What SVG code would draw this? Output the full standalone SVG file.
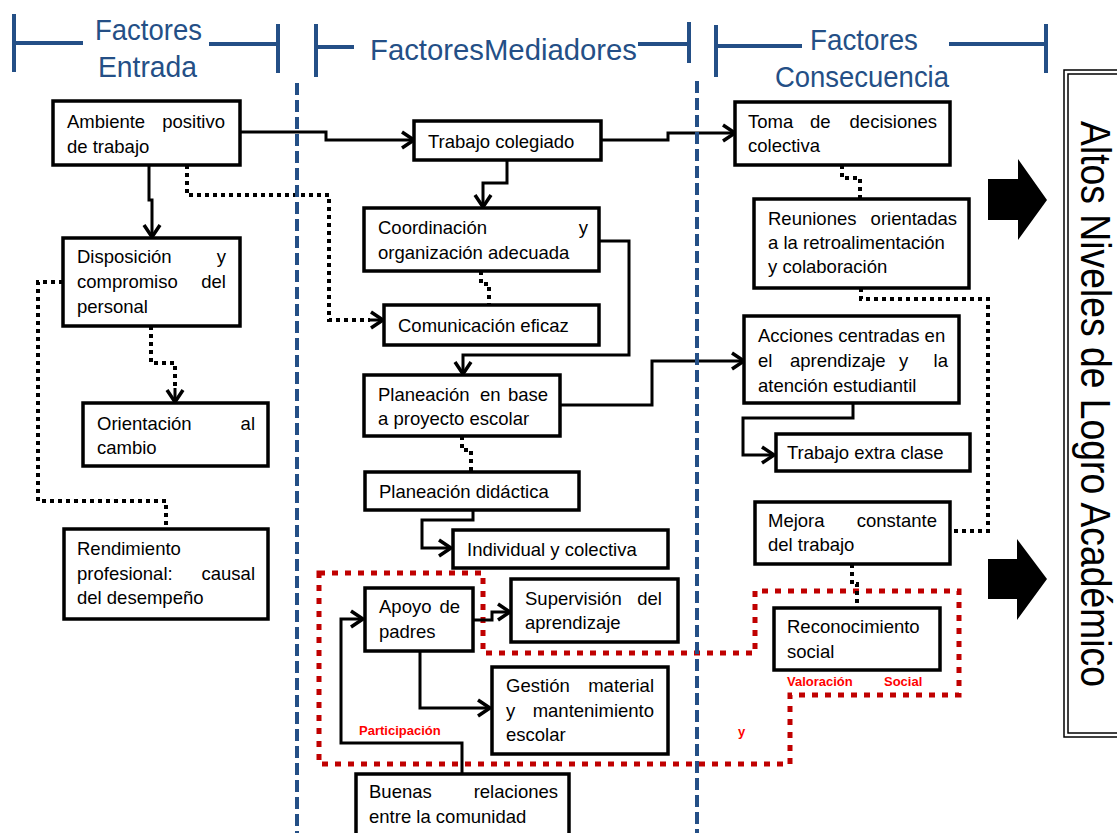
<svg xmlns="http://www.w3.org/2000/svg" width="1117" height="833" viewBox="0 0 1117 833">
<style>
.box{fill:#fff;stroke:#000;stroke-width:3.5}
.t{font-family:"Liberation Sans",Arial,sans-serif;font-size:18.5px;fill:#000}
.e{text-anchor:end}
.hd{font-family:"Liberation Sans",Arial,sans-serif;font-size:29px;fill:#244F86}
.hl{stroke:#244F86;stroke-width:4;fill:none}
.bd{stroke:#244F86;stroke-width:4;stroke-dasharray:12 5;fill:none}
.c{fill:none;stroke:#000;stroke-width:3}
.d{fill:none;stroke:#000;stroke-width:4;stroke-dasharray:4 4}
.red{fill:none;stroke:#C00000;stroke-width:5;stroke-dasharray:6 7}
.rl{font-family:"Liberation Sans",Arial,sans-serif;font-size:13px;font-weight:bold;fill:#FF0000}
</style>
<defs>
<marker id="ar" markerUnits="userSpaceOnUse" markerWidth="16" markerHeight="20" viewBox="0 0 16 20" refX="14" refY="10" orient="auto">
<path d="M2,2 L14,10 L2,18" fill="none" stroke="#000" stroke-width="3.5" stroke-dasharray="none"/>
</marker>
</defs>
<rect width="1117" height="833" fill="#fff"/>

<g id="headers">
<path class="hl" d="M14,14 V72 M14,43 H83 M209,44 H278 M278,24 V73"/>
<text class="hd" x="95" y="40" textLength="107" lengthAdjust="spacingAndGlyphs">Factores</text>
<text class="hd" x="98" y="77" textLength="99" lengthAdjust="spacingAndGlyphs">Entrada</text>
<path class="hl" d="M316,24 V77 M316,47 H354 M638,44 H689 M689,22 V63"/>
<text class="hd" x="370" y="60" textLength="267" lengthAdjust="spacingAndGlyphs">FactoresMediadores</text>
<path class="hl" d="M716,25 V77 M716,46 H802 M949,44 H1046 M1046,24 V73"/>
<text class="hd" x="810" y="50" textLength="108" lengthAdjust="spacingAndGlyphs">Factores</text>
<text class="hd" x="775" y="87" textLength="174" lengthAdjust="spacingAndGlyphs">Consecuencia</text>
</g>

<g id="grupo-participacion">
<path class="red" d="M319,573 H483 V653 H755 V591 H959 V695 H790 V764 H319 Z"/>
<text class="rl" x="359" y="735">Participación</text>
<text class="rl" x="738" y="736">y</text>
<text class="rl" x="787" y="686">Valoración</text>
<text class="rl" x="884" y="686">Social</text>
</g>

<g id="connectors">
<path class="c" d="M240,132 H326 V140 H414" marker-end="url(#ar)"/>
<path class="c" d="M601,140 H668 V133 H735" marker-end="url(#ar)"/>
<path class="c" d="M149,165 V200 H152 V237" marker-end="url(#ar)"/>
<path class="d" d="M187,165 V195 H329 V320 H370"/>
<path class="c" d="M368,320 H383" marker-end="url(#ar)"/>
<path class="c" d="M507,160 V183 H483 V207" marker-end="url(#ar)"/>
<path class="d" d="M481,271 V284 H489 V305"/>
<path class="c" d="M599,241 H629 V355 H463 V374" marker-end="url(#ar)"/>
<path class="c" d="M560,405 H652 V361 H744" marker-end="url(#ar)"/>
<path class="d" d="M462,436 V450 H471 V471"/>
<path class="c" d="M473,510 V520 H422 V548 H451" marker-end="url(#ar)"/>
<path class="c" d="M473,620 H492 V612 H510" marker-end="url(#ar)"/>
<path class="c" d="M420,651 V708 H490" marker-end="url(#ar)"/>
<path class="c" d="M462,774 V743 H341 V619 H363" marker-end="url(#ar)"/>
<path class="c" d="M853,403 V418 H743 V455 H774" marker-end="url(#ar)"/>
<path class="d" d="M842,165 V178 H860 V199"/>
<path class="d" d="M861,288 V299 H988 V531 H950"/>
<path class="d" d="M63,282 H38 V501 H166 V529"/>
<path class="d" d="M151,326 V363 H175 V390"/>
<path class="c" d="M175,388 V402" marker-end="url(#ar)"/>
<path class="d" d="M852,564 V584 H857 V608"/>
</g>

<g id="separadores">
<path class="bd" d="M297,83 V833"/>
<path class="bd" d="M697,81 V833"/>
</g>

<g id="n-ambiente">
<rect class="box" x="53" y="101" width="187" height="64"/>
<text class="t" x="67" y="128">Ambiente</text><text class="t e" x="225" y="128">positivo</text>
<text class="t" x="67" y="153">de trabajo</text>
</g>
<g id="n-disposicion">
<rect class="box" x="63" y="238" width="177" height="88"/>
<text class="t" x="77" y="263">Disposición</text><text class="t e" x="226" y="263">y</text>
<text class="t" x="77" y="288">compromiso</text><text class="t e" x="226" y="288">del</text>
<text class="t" x="77" y="313">personal</text>
</g>
<g id="n-orientacion">
<rect class="box" x="83" y="403" width="185" height="63"/>
<text class="t" x="97" y="430">Orientación</text><text class="t e" x="255" y="430">al</text>
<text class="t" x="97" y="454">cambio</text>
</g>
<g id="n-rendimiento">
<rect class="box" x="64" y="529" width="204" height="90"/>
<text class="t" x="77" y="555">Rendimiento</text>
<text class="t" x="77" y="580">profesional:</text><text class="t e" x="255" y="580">causal</text>
<text class="t" x="77" y="604">del desempeño</text>
</g>
<g id="n-trabajo-colegiado">
<rect class="box" x="414" y="121" width="187" height="39"/>
<text class="t" x="428" y="148">Trabajo colegiado</text>
</g>
<g id="n-coordinacion">
<rect class="box" x="364" y="208" width="235" height="63"/>
<text class="t" x="378" y="234">Coordinación</text><text class="t e" x="588" y="234">y</text>
<text class="t" x="378" y="259">organización adecuada</text>
</g>
<g id="n-comunicacion">
<rect class="box" x="384" y="305" width="215" height="40"/>
<text class="t" x="398" y="332">Comunicación eficaz</text>
</g>
<g id="n-planeacion-base">
<rect class="box" x="364" y="375" width="196" height="61"/>
<text class="t" x="378" y="401">Planeación</text><text class="t" x="480" y="401">en</text><text class="t e" x="548" y="401">base</text>
<text class="t" x="378" y="425">a proyecto escolar</text>
</g>
<g id="n-planeacion-didactica">
<rect class="box" x="365" y="472" width="214" height="38"/>
<text class="t" x="379" y="498">Planeación didáctica</text>
</g>
<g id="n-individual">
<rect class="box" x="453" y="530" width="215" height="38"/>
<text class="t" x="467" y="556">Individual y colectiva</text>
</g>
<g id="n-apoyo">
<rect class="box" x="365" y="588" width="108" height="63"/>
<text class="t" x="379" y="613">Apoyo</text><text class="t e" x="460" y="613">de</text>
<text class="t" x="379" y="638">padres</text>
</g>
<g id="n-supervision">
<rect class="box" x="511" y="579" width="167" height="63"/>
<text class="t" x="525" y="605">Supervisión</text><text class="t e" x="662" y="605">del</text>
<text class="t" x="525" y="629">aprendizaje</text>
</g>
<g id="n-gestion">
<rect class="box" x="492" y="667" width="176" height="87"/>
<text class="t" x="506" y="692">Gestión</text><text class="t e" x="654" y="692">material</text>
<text class="t" x="506" y="717">y</text><text class="t e" x="654" y="717">mantenimiento</text>
<text class="t" x="506" y="741">escolar</text>
</g>
<g id="n-buenas">
<rect class="box" x="356" y="774" width="213" height="75"/>
<text class="t" x="369" y="798">Buenas</text><text class="t e" x="558" y="798">relaciones</text>
<text class="t" x="369" y="823">entre la comunidad</text>
</g>
<g id="n-toma">
<rect class="box" x="735" y="102" width="215" height="63"/>
<text class="t" x="748" y="128">Toma</text><text class="t" x="810" y="128">de</text><text class="t e" x="937" y="128">decisiones</text>
<text class="t" x="748" y="152">colectiva</text>
</g>
<g id="n-reuniones">
<rect class="box" x="754" y="199" width="215" height="89"/>
<text class="t" x="768" y="225">Reuniones</text><text class="t e" x="957" y="225">orientadas</text>
<text class="t" x="768" y="249">a la retroalimentación</text>
<text class="t" x="768" y="273">y colaboración</text>
</g>
<g id="n-acciones">
<rect class="box" x="744" y="316" width="215" height="87"/>
<text class="t" x="758" y="342">Acciones centradas en</text>
<text class="t" x="758" y="367">el</text><text class="t" x="790" y="367">aprendizaje</text><text class="t" x="899" y="367">y</text><text class="t e" x="948" y="367">la</text>
<text class="t" x="758" y="392">atención estudiantil</text>
</g>
<g id="n-extra-clase">
<rect class="box" x="776" y="434" width="194" height="37"/>
<text class="t" x="787" y="459">Trabajo extra clase</text>
</g>
<g id="n-mejora">
<rect class="box" x="755" y="502" width="195" height="62"/>
<text class="t" x="768" y="527">Mejora</text><text class="t e" x="937" y="527">constante</text>
<text class="t" x="768" y="551">del trabajo</text>
</g>
<g id="n-reconocimiento">
<rect class="box" x="774" y="608" width="166" height="62"/>
<text class="t" x="787" y="633">Reconocimiento</text>
<text class="t" x="787" y="658">social</text>
</g>

<g id="flechas-grandes">
<polygon points="988,179 1018,179 1018,159 1047,200 1018,240 1018,220 988,220" fill="#000"/>
<polygon points="988,559 1017,559 1017,539 1047,579 1017,620 1017,599 988,599" fill="#000"/>
</g>

<g id="n-logro">
<rect x="1064" y="70" width="80" height="667" fill="#fff" stroke="#000" stroke-width="1.5"/>
<rect x="1068" y="74" width="80" height="659" fill="none" stroke="#000" stroke-width="1.5"/>
<text transform="translate(1081,121) rotate(90)" font-family="'Liberation Sans',Arial,sans-serif" font-size="42" fill="#000" textLength="566" lengthAdjust="spacingAndGlyphs">Altos Niveles de Logro Académico</text>
</g>
</svg>
